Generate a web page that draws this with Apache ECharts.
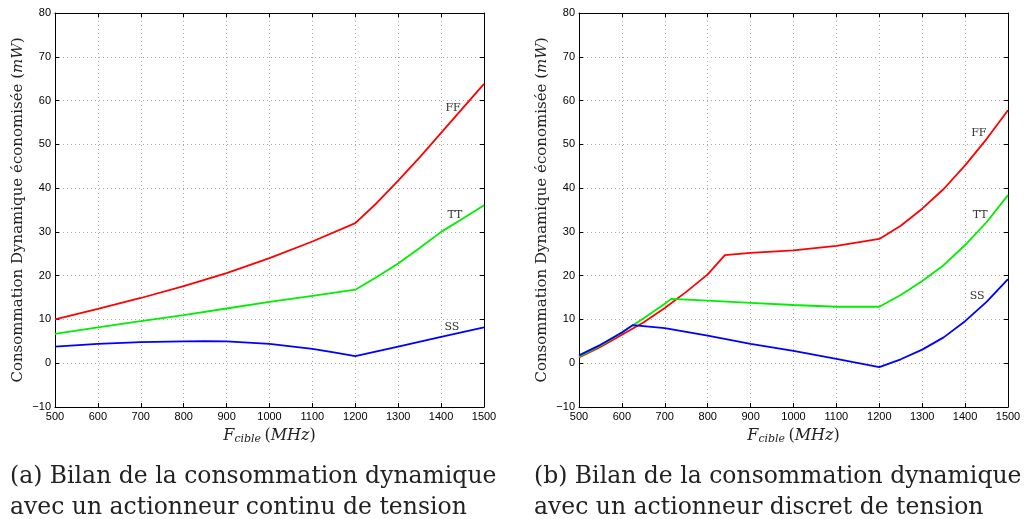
<!DOCTYPE html>
<html>
<head>
<meta charset="utf-8">
<script src="https://cdn.jsdelivr.net/npm/echarts@6/dist/echarts.min.js"></script>
<style>
  html, body { margin: 0; padding: 0; background: #fff; }
  #chart { width: 1025px; height: 519px; }
</style>
</head>
<body>
<div id="chart"></div>
<script>
// (a) actionneur continu
var xA_FF = [500, 600, 700, 800, 900, 1000, 1100, 1200, 1250, 1300, 1350, 1400, 1450, 1500]
var yA_FF = [10, 12.4, 14.9, 17.6, 20.6, 24, 27.8, 32, 36.6, 41.7, 47, 52.6, 58.2, 63.8]
var xA_TT = [500, 600, 700, 800, 900, 1000, 1100, 1200, 1250, 1300, 1350, 1400, 1450, 1500]
var yA_TT = [6.7, 8.2, 9.6, 11, 12.5, 14, 15.4, 16.8, 19.7, 22.8, 26.3, 30, 33, 36.1]
var xA_SS = [500, 600, 700, 800, 850, 900, 1000, 1100, 1150, 1200, 1300, 1400, 1500]
var yA_SS = [3.8, 4.4, 4.8, 5.0, 5.05, 5.0, 4.4, 3.3, 2.5, 1.6, 3.8, 6.0, 8.2]

// (b) actionneur discret
var xB_FF = [500, 550, 600, 650, 700, 750, 800, 840, 900, 1000, 1100, 1200, 1250, 1300, 1350, 1400, 1450, 1500]
var yB_FF = [1.3, 3.7, 6.5, 9.3, 12.6, 16.3, 20.3, 24.7, 25.2, 25.8, 26.8, 28.4, 31.4, 35.3, 39.8, 45.2, 51.2, 57.8]
var xB_TT = [500, 550, 600, 650, 700, 715, 800, 900, 1000, 1100, 1200, 1250, 1300, 1350, 1400, 1450, 1500]
var yB_TT = [1.5, 4.0, 7.0, 10.2, 13.6, 14.7, 14.3, 13.8, 13.3, 12.9, 12.9, 15.6, 18.8, 22.4, 27, 32.2, 38.4]
var xB_SS = [500, 550, 600, 625, 700, 800, 900, 1000, 1100, 1200, 1250, 1300, 1350, 1400, 1450, 1500]
var yB_SS = [1.8, 4.2, 7.0, 8.7, 8.0, 6.3, 4.4, 2.8, 1.0, -0.9, 0.9, 3.1, 5.9, 9.6, 14.0, 19.2]

// étiquettes des courbes [x, y]
var labA = { FF: [1428, 58.3], TT: [1432, 33.9], SS: [1425, 8.3] }
var labB = { FF: [1432, 52.6], TT: [1435, 33.9], SS: [1428, 15.4] }

var xTicks = [500, 1500, 100]
var yTicks = [-10, 80, 10]

var captionA = '(a) Bilan de la consommation dynamique\navec un actionneur continu de tension'
var captionB = '(b) Bilan de la consommation dynamique\navec un actionneur discret de tension'

function pairs (xs, ys) {
  var out = []
  for (var i = 0; i < xs.length; i++) out.push([xs[i], ys[i]])
  return out
}

var sans = 'Liberation Sans'
var serif = 'DejaVu Serif'

function mkX (grid, top) {
  return {
    type: 'value', gridIndex: grid, min: xTicks[0], max: xTicks[1], interval: xTicks[2],
    position: top ? 'top' : 'bottom',
    name: top ? '' : '{i|F}{s|cible} {n|(}{i|MHz}{n|)}',
    nameLocation: 'middle', nameGap: 20,
    nameTextStyle: {
      rich: {
        i: { fontFamily: serif, fontStyle: 'italic', fontSize: 16, color: '#222' },
        s: { fontFamily: serif, fontStyle: 'italic', fontSize: 11, color: '#222', verticalAlign: 'bottom', padding: [7, 0, 0, 0] },
        n: { fontFamily: serif, fontSize: 16, color: '#222' }
      }
    },
    axisLine: { show: true, onZero: false, lineStyle: { color: '#000', width: 1 } },
    axisTick: { show: true, inside: true, length: 4, lineStyle: { color: '#000' } },
    axisLabel: { show: !top, color: '#000', fontSize: 11, fontFamily: sans, margin: 4,
      formatter: function (v) { return String(v) } },
    splitLine: { show: !top, lineStyle: { color: '#aaa', type: [1, 3], width: 1 } }
  }
}

function mkY (grid, right) {
  return {
    type: 'value', gridIndex: grid, min: yTicks[0], max: yTicks[1], interval: yTicks[2],
    position: right ? 'right' : 'left',
    name: right ? '' : '{n|Consommation Dynamique économisée (}{i|mW}{n|)}',
    nameLocation: 'middle', nameGap: 29, nameRotate: 90,
    nameTextStyle: {
      rich: {
        i: { fontFamily: serif, fontStyle: 'italic', fontSize: 15, color: '#222' },
        n: { fontFamily: serif, fontSize: 15, color: '#222' }
      }
    },
    axisLine: { show: true, onZero: false, lineStyle: { color: '#000', width: 1 } },
    axisTick: { show: true, inside: true, length: 4, lineStyle: { color: '#000' } },
    axisLabel: {
      show: !right, color: '#000', fontSize: 11, fontFamily: sans, margin: 4,
      formatter: function (v) { return String(v).replace('-', '\u2212') }
    },
    splitLine: { show: !right, lineStyle: { color: '#aaa', type: [1, 3], width: 1 } }
  }
}

function line (name, color, xs, ys, grid, lab) {
  return {
    name: name, type: 'line', xAxisIndex: grid * 2, yAxisIndex: grid * 2,
    data: pairs(xs, ys), showSymbol: false, symbol: 'none', smooth: false,
    lineStyle: { color: color, width: 1.8 },
    markPoint: {
      symbol: 'circle', symbolSize: 1, itemStyle: { color: 'rgba(0,0,0,0)' },
      label: { show: true, position: 'inside', formatter: name, fontFamily: serif, fontSize: 11, color: '#333' },
      data: [{ coord: lab[name] }]
    }
  }
}

var capStyle = { fontFamily: serif, fontWeight: 'normal', fontSize: 23.5, lineHeight: 31, color: '#222' }

var chart = echarts.init(document.getElementById('chart'))
chart.setOption({
  animation: false,
  backgroundColor: '#fff',
  title: [
    { text: captionA, left: 5, top: 456, textStyle: capStyle },
    { text: captionB, left: 529, top: 456, textStyle: capStyle }
  ],
  grid: [
    { left: 55, top: 13, width: 429, height: 394 },
    { left: 579, top: 13, width: 429, height: 394 }
  ],
  xAxis: [mkX(0, false), mkX(0, true), mkX(1, false), mkX(1, true)],
  yAxis: [mkY(0, false), mkY(0, true), mkY(1, false), mkY(1, true)],
  series: [
    line('FF', '#ff0000', xA_FF, yA_FF, 0, labA),
    line('TT', '#00ee00', xA_TT, yA_TT, 0, labA),
    line('SS', '#0000ff', xA_SS, yA_SS, 0, labA),
    line('FF', '#ff0000', xB_FF, yB_FF, 1, labB),
    line('TT', '#00ee00', xB_TT, yB_TT, 1, labB),
    line('SS', '#0000ff', xB_SS, yB_SS, 1, labB)
  ]
})
</script>
</body>
</html>
